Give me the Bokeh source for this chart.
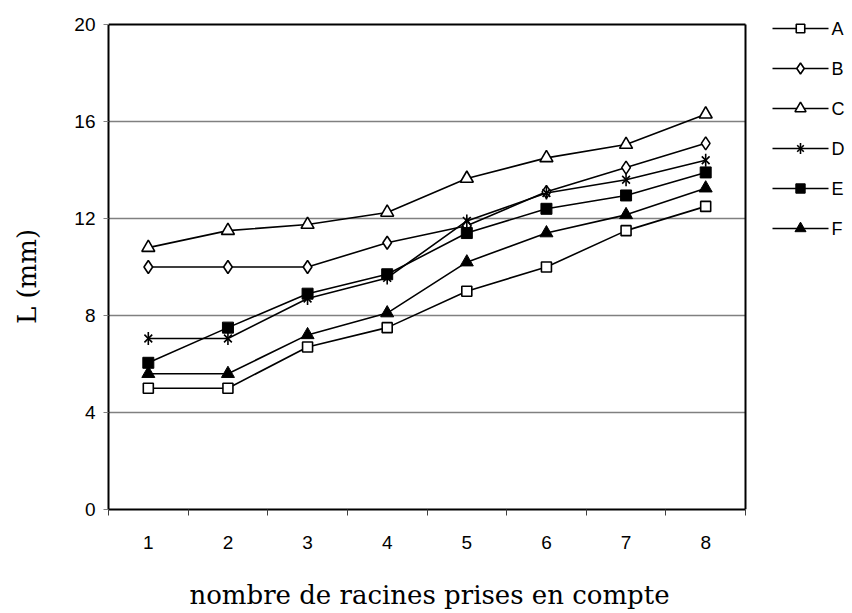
from bokeh.plotting import figure
from bokeh.models import FixedTicker, Range1d
from bokeh.layouts import row
from bokeh.core.properties import value
from bokeh.embed import file_html
from bokeh.resources import INLINE
import math

x_vals = [1, 2, 3, 4, 5, 6, 7, 8]
series_names = ["A", "B", "C", "D", "E", "F"]
A = [5.0, 5.0, 6.7, 7.5, 9.0, 10.0, 11.5, 12.5]
B = [10.0, 10.0, 10.0, 11.0, 11.7, 13.1, 14.1, 15.1]
C = [10.8, 11.5, 11.75, 12.25, 13.65, 14.5, 15.05, 16.3]
D = [7.05, 7.05, 8.7, 9.55, 11.9, 13.05, 13.6, 14.4]
E = [6.05, 7.5, 8.9, 9.7, 11.4, 12.4, 12.95, 13.9]
F = [5.6, 5.6, 7.2, 8.1, 10.2, 11.4, 12.15, 13.25]
y_ticks = [0, 4, 8, 12, 16, 20]
grid_ticks = [4, 8, 12, 16]
x_title = "nombre de racines prises en compte"
y_title = "L (mm)"

# layout (pixels)
H = 612
TOP, BOTTOM = 8, 103
YT_W = 70                 # strip holding the y-axis title
P_W = 680                 # main figure
LG_W = 100                # legend strip
P_LEFT = 108 - YT_W
PLOT_TOP = 24             # screen y of value 20
PLOT_W = 637              # width of the 8 categories
frame_bottom = H - BOTTOM
frame_w = P_W - P_LEFT
x0, x1 = 0.5, 8.5
y0, y1 = 0, 20
px_per_y = (frame_bottom - PLOT_TOP) / (y1 - y0)
x_end = x0 + frame_w * (x1 - x0) / PLOT_W
y_end = y1 + (PLOT_TOP - TOP) / px_per_y


def bare(fig):
    fig.outline_line_color = None
    fig.xgrid.grid_line_color = None
    fig.ygrid.grid_line_color = None
    fig.background_fill_color = "white"
    fig.border_fill_color = "white"


p = figure(width=P_W, height=H, output_backend="svg", toolbar_location=None,
           x_range=Range1d(x0, x_end), y_range=Range1d(y0, y_end),
           min_border_left=P_LEFT, min_border_right=0, min_border_top=TOP, min_border_bottom=BOTTOM)
bare(p)

p.xaxis.ticker = FixedTicker(ticks=x_vals, minor_ticks=[i + 0.5 for i in range(0, 9)])
p.xaxis.bounds = (x0, x1)
p.xaxis.major_tick_line_color = None
p.xaxis.major_tick_out = 0
p.xaxis.minor_tick_line_color = "#404040"
p.xaxis.minor_tick_out = 6
p.xaxis.minor_tick_in = 0
p.xaxis.major_label_standoff = 20
p.xaxis.axis_label = x_title
p.xaxis.axis_label_standoff = 28
p.xaxis.axis_label_text_font = "DejaVu Serif"
p.xaxis.axis_label_text_font_style = "normal"
p.xaxis.axis_label_text_font_size = "26px"
p.xaxis.axis_label_text_color = "black"

p.yaxis.ticker = FixedTicker(ticks=y_ticks)
p.yaxis.bounds = (y0, y1)
p.yaxis.minor_tick_line_color = None
p.yaxis.major_tick_line_color = "#808080"
p.yaxis.major_tick_out = 5
p.yaxis.major_tick_in = 0
p.yaxis.major_label_standoff = 8

for ax in (p.xaxis, p.yaxis):
    ax.axis_line_color = "black"
    ax.axis_line_width = 2
    ax.major_label_text_font = "Liberation Sans"
    ax.major_label_text_font_size = "19px"
    ax.major_label_text_color = "black"

# horizontal grid lines and the top/right borders of the plotting box
p.segment(x0=[x0] * len(grid_ticks), y0=grid_ticks, x1=[x1] * len(grid_ticks), y1=grid_ticks,
          line_color="#808080", line_width=1.5)
p.segment(x0=[x0, x1], y0=[y1, y0], x1=[x1, x1], y1=[y1, y1], line_color="black", line_width=2)


def draw_marker(fig, name, xs, ys, k=1.0):
    if name == "A":
        fig.scatter(xs, ys, marker="square", size=10 * k, fill_color="white", line_color="black", line_width=1.6)
    elif name == "B":
        fig.scatter(xs, ys, marker="diamond", size=13 * k, fill_color="white", line_color="black", line_width=1.6)
    elif name == "C":
        fig.scatter(xs, ys, marker="triangle", size=13 * k, fill_color="white", line_color="black", line_width=1.6)
    elif name == "D":
        fig.scatter(xs, ys, marker="x", size=11 * k, line_color="black", line_width=1.6)
        fig.scatter(xs, ys, marker="dash", size=13 * k, angle=math.pi / 2, line_color="black", line_width=1.6)
    elif name == "E":
        fig.scatter(xs, ys, marker="square", size=11 * k, fill_color="black", line_color="black")
    elif name == "F":
        fig.scatter(xs, ys, marker="triangle", size=13 * k, fill_color="black", line_color="black")


data = [A, B, C, D, E, F]
for name, ys in zip(series_names, data):
    p.line(x_vals, ys, line_color="black", line_width=1.6)
    draw_marker(p, name, x_vals, ys)

# y-axis title strip (screen-pixel coordinates)
yt = figure(width=YT_W, height=H, output_backend="svg", toolbar_location=None,
            x_range=Range1d(0, YT_W), y_range=Range1d(frame_bottom, TOP),
            min_border_left=0, min_border_right=0, min_border_top=TOP, min_border_bottom=BOTTOM,
            x_axis_type=None, y_axis_type=None)
bare(yt)
yt.text(x=[26], y=[276], text=[y_title], angle=math.pi / 2, text_font=value("DejaVu Serif"),
        text_font_size="26px", text_align="center", text_baseline="middle", text_color="black")

# legend strip (screen-pixel coordinates)
X_L = YT_W + P_W
lg = figure(width=LG_W, height=H, output_backend="svg", toolbar_location=None,
            x_range=Range1d(X_L, X_L + LG_W), y_range=Range1d(frame_bottom, TOP),
            min_border_left=0, min_border_right=0, min_border_top=TOP, min_border_bottom=BOTTOM,
            x_axis_type=None, y_axis_type=None)
bare(lg)
leg_y = [28 + 40 * i for i in range(len(series_names))]
n = len(series_names)
lg.segment(x0=[772] * n, y0=leg_y, x1=[828] * n, y1=leg_y, line_color="black", line_width=1.6)
for name, yy in zip(series_names, leg_y):
    draw_marker(lg, name, [800], [yy], k=0.85)
lg.text(x=[831] * n, y=leg_y, text=series_names, text_font=value("Liberation Sans"),
        text_font_size="18px", text_baseline="middle", text_align="left", text_color="black")

layout = row(yt, p, lg, spacing=0)
open("out.html", "w").write(file_html(layout, INLINE))
